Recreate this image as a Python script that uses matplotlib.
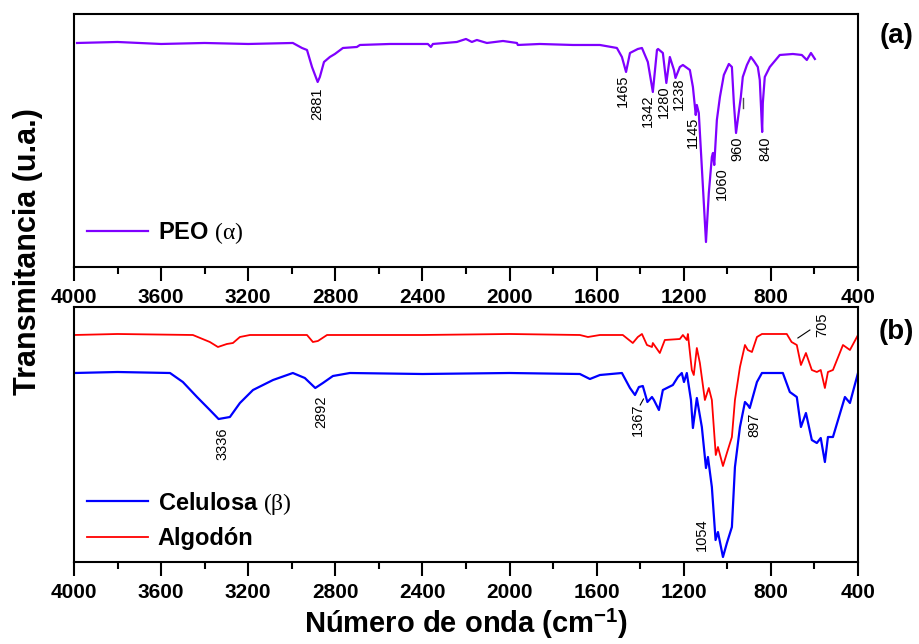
import matplotlib
matplotlib.use("Agg")
import matplotlib.pyplot as plt
from matplotlib.ticker import MultipleLocator

plt.rcParams['font.family'] = ['Liberation Sans', 'DejaVu Sans']
plt.rcParams['mathtext.fontset'] = 'custom'
plt.rcParams['mathtext.rm'] = 'Liberation Serif'
plt.rcParams['mathtext.it'] = 'Liberation Serif:italic'
plt.rcParams['mathtext.bf'] = 'Liberation Sans:bold'
plt.rcParams['mathtext.sf'] = 'Liberation Sans'

# ----------------------------------------------------------------------------
# FTIR spectra (transmittance in arbitrary units)
# ----------------------------------------------------------------------------

# (a) PEO
peo_wn = [3986, 3800, 3600, 3400, 3200, 2995, 2953, 2930, 2907, 2881, 2871,
          2852, 2825, 2802, 2765, 2701, 2687, 2549, 2375, 2361, 2352, 2242,
          2200, 2173, 2150, 2104, 2030, 1966, 1962, 1861, 1709, 1585, 1507,
          1484, 1465, 1447, 1411, 1392, 1365, 1342, 1323, 1318, 1296, 1280,
          1264, 1245, 1238, 1218, 1204, 1172, 1158, 1145, 1140, 1131, 1112,
          1098, 1085, 1071, 1066, 1060, 1048, 1034, 1016, 993, 979, 970,
          960, 952, 938, 929, 910, 892, 878, 860, 851, 840, 837, 828, 805,
          759, 699, 658, 635, 616, 598]
peo_t = [224, 225, 223, 224, 223, 224, 219, 217, 200, 185, 190,
         205, 210, 213, 219, 220, 222, 223, 223, 220, 223, 225,
         228, 225, 227, 224, 226, 224, 222, 223, 222, 222, 219,
         210, 195, 214, 218, 219, 205, 175, 217, 218, 214, 184,
         210, 197, 189, 200, 202, 197, 180, 152, 162, 154, 80,
         25, 74, 110, 114, 102, 147, 170, 192, 203, 200, 164,
         134, 147, 170, 190, 202, 210, 206, 200, 187, 135, 164, 190, 200,
         212, 213, 212, 207, 214, 208]

# (b) Celulosa
cel_wn = [4000, 3800, 3559, 3500, 3435, 3376, 3336, 3284, 3238, 3178, 3086,
          2995, 2940, 2892, 2857, 2811, 2733, 2400, 2000, 1677, 1631, 1585,
          1484, 1447, 1424, 1406, 1388, 1367, 1346, 1337, 1314, 1296, 1250,
          1227, 1209, 1199, 1186, 1167, 1158, 1140, 1117, 1098, 1089, 1071,
          1054, 1043, 1020, 1002, 979, 965, 942, 919, 906, 897, 864, 841,
          745, 713, 681, 662, 639, 612, 589, 571, 552, 538, 515, 460, 437,
          400]
cel_t = [189, 190, 189, 180, 165, 152, 143, 145, 159, 172, 182,
         189, 184, 174, 179, 186, 189, 188, 189, 188, 183, 187,
         189, 174, 167, 175, 176, 160, 165, 162, 152, 172, 177,
         185, 189, 180, 189, 162, 134, 164, 135, 94, 105, 75,
         22, 30, 5, 19, 35, 95, 135, 160, 157, 154, 180, 189,
         189, 170, 165, 135, 149, 122, 119, 124, 100, 125, 125, 165, 159,
         189]

# (b) Algodón
alg_wn = [4000, 3800, 3454, 3376, 3339, 3298, 3270, 3238, 3192, 2930, 2903,
          2880, 2838, 2400, 2000, 1677, 1640, 1585, 1480, 1434, 1411, 1392,
          1369, 1346, 1342, 1310, 1287, 1218, 1204, 1186, 1181, 1163, 1154,
          1140, 1126, 1103, 1085, 1071, 1053, 1043, 1020, 1002, 979, 965,
          942, 919, 906, 887, 864, 841, 727, 705, 681, 662, 639, 612, 589,
          571, 552, 538, 515, 469, 437, 400]
alg_t = [227, 228, 227, 220, 215, 218, 219, 225, 227, 227, 220,
         221, 227, 227, 228, 227, 225, 227, 227, 219, 225, 228,
         217, 215, 219, 209, 222, 223, 227, 222, 228, 192, 187,
         214, 199, 162, 174, 162, 107, 115, 96, 109, 125, 162,
         195, 217, 212, 210, 225, 228, 228, 220, 217, 197, 209, 192, 190,
         192, 174, 190, 192, 217, 212, 227]

# peak labels: (text, x, top y)
peo_peaks = [('2881', 2885, 179), ('1465', 1480, 192), ('1342', 1365, 172),
             ('1280', 1291, 182), ('1238', 1222, 189), ('1145', 1158, 150),
             ('1060', 1025, 100), ('960', 956, 130), ('840', 823, 130)]
cel_peaks = [('3336', 3316, 135), ('2892', 2866, 167), ('1367', 1411, 159),
             ('897', 878, 149), ('1054', 1117, 44)]

peo_color = '#7F00FF'

fig = plt.figure(figsize=(9.2, 6.44), dpi=100)
ax1 = fig.add_axes([0.0804, 0.5854, 0.8522, 0.3929])
ax2 = fig.add_axes([0.0804, 0.1273, 0.8522, 0.3960])

ax1.plot(peo_wn, peo_t, color=peo_color, lw=1.6,
         label=r'PEO $\mathrm{(\alpha)}$')
ax2.plot(cel_wn, cel_t, color='#0000FF', lw=1.6,
         label=r'Celulosa $\mathrm{(\beta)}$')
ax2.plot(alg_wn, alg_t, color='#FF0000', lw=1.3, label='Algodón')

for lbl, x, y in peo_peaks:
    ax1.text(x, y, lbl, rotation=90, ha='center', va='top', fontsize=10.5)
for lbl, x, y in cel_peaks:
    ax2.text(x, y, lbl, rotation=90, ha='center', va='top', fontsize=10.5)
ax2.text(566, 249, '705', rotation=90, ha='center', va='top', fontsize=10.5)

# small leader marks
ax1.plot([929, 929], [159, 169], color='0.3', lw=1)
ax2.plot([676, 621], [224, 232], color='k', lw=0.8)
ax2.plot([1400, 1385], [157, 163], color='k', lw=0.8)

ax1.set_ylim(0, 253)
ax2.set_ylim(0, 255)

for ax in (ax1, ax2):
    ax.set_xlim(4000, 400)
    ax.xaxis.set_major_locator(MultipleLocator(400))
    ax.xaxis.set_minor_locator(MultipleLocator(200))
    ax.tick_params(axis='x', which='major', direction='out', length=10,
                   width=1.5, labelsize=15, pad=5)
    ax.tick_params(axis='x', which='minor', direction='out', length=5,
                   width=1.5)
    ax.tick_params(axis='y', left=False, labelleft=False)
    for lab in ax.get_xticklabels():
        lab.set_fontweight('bold')
    for sp in ax.spines.values():
        sp.set_linewidth(1.5)

leg1 = ax1.legend(loc='center left', bbox_to_anchor=(0.0166, 0.134),
                  frameon=False, borderpad=0, borderaxespad=0,
                  handlelength=2.6, handletextpad=0.4,
                  prop={'weight': 'bold', 'size': 17})
h, l = ax2.get_legend_handles_labels()
leg2 = ax2.legend(h, l, loc='center left', bbox_to_anchor=(0.0166, 0.165),
                  frameon=False, borderpad=0, borderaxespad=0,
                  handlelength=2.6, handletextpad=0.4, labelspacing=0.45,
                  prop={'weight': 'bold', 'size': 17})

ax2.set_xlabel(r'Número de onda (cm$^{\mathbf{-1}}$)', fontsize=21,
               fontweight='bold', labelpad=4)
fig.text(0.030, 0.61, 'Transmitancia (u.a.)', rotation=90, ha='center',
         va='center', fontsize=22, fontweight='bold')

fig.text(0.974, 0.944, '(a)', ha='center', va='center', fontsize=20,
         fontweight='bold')
fig.text(0.974, 0.484, '(b)', ha='center', va='center', fontsize=20,
         fontweight='bold')

fig.savefig('out.png', dpi=100)
